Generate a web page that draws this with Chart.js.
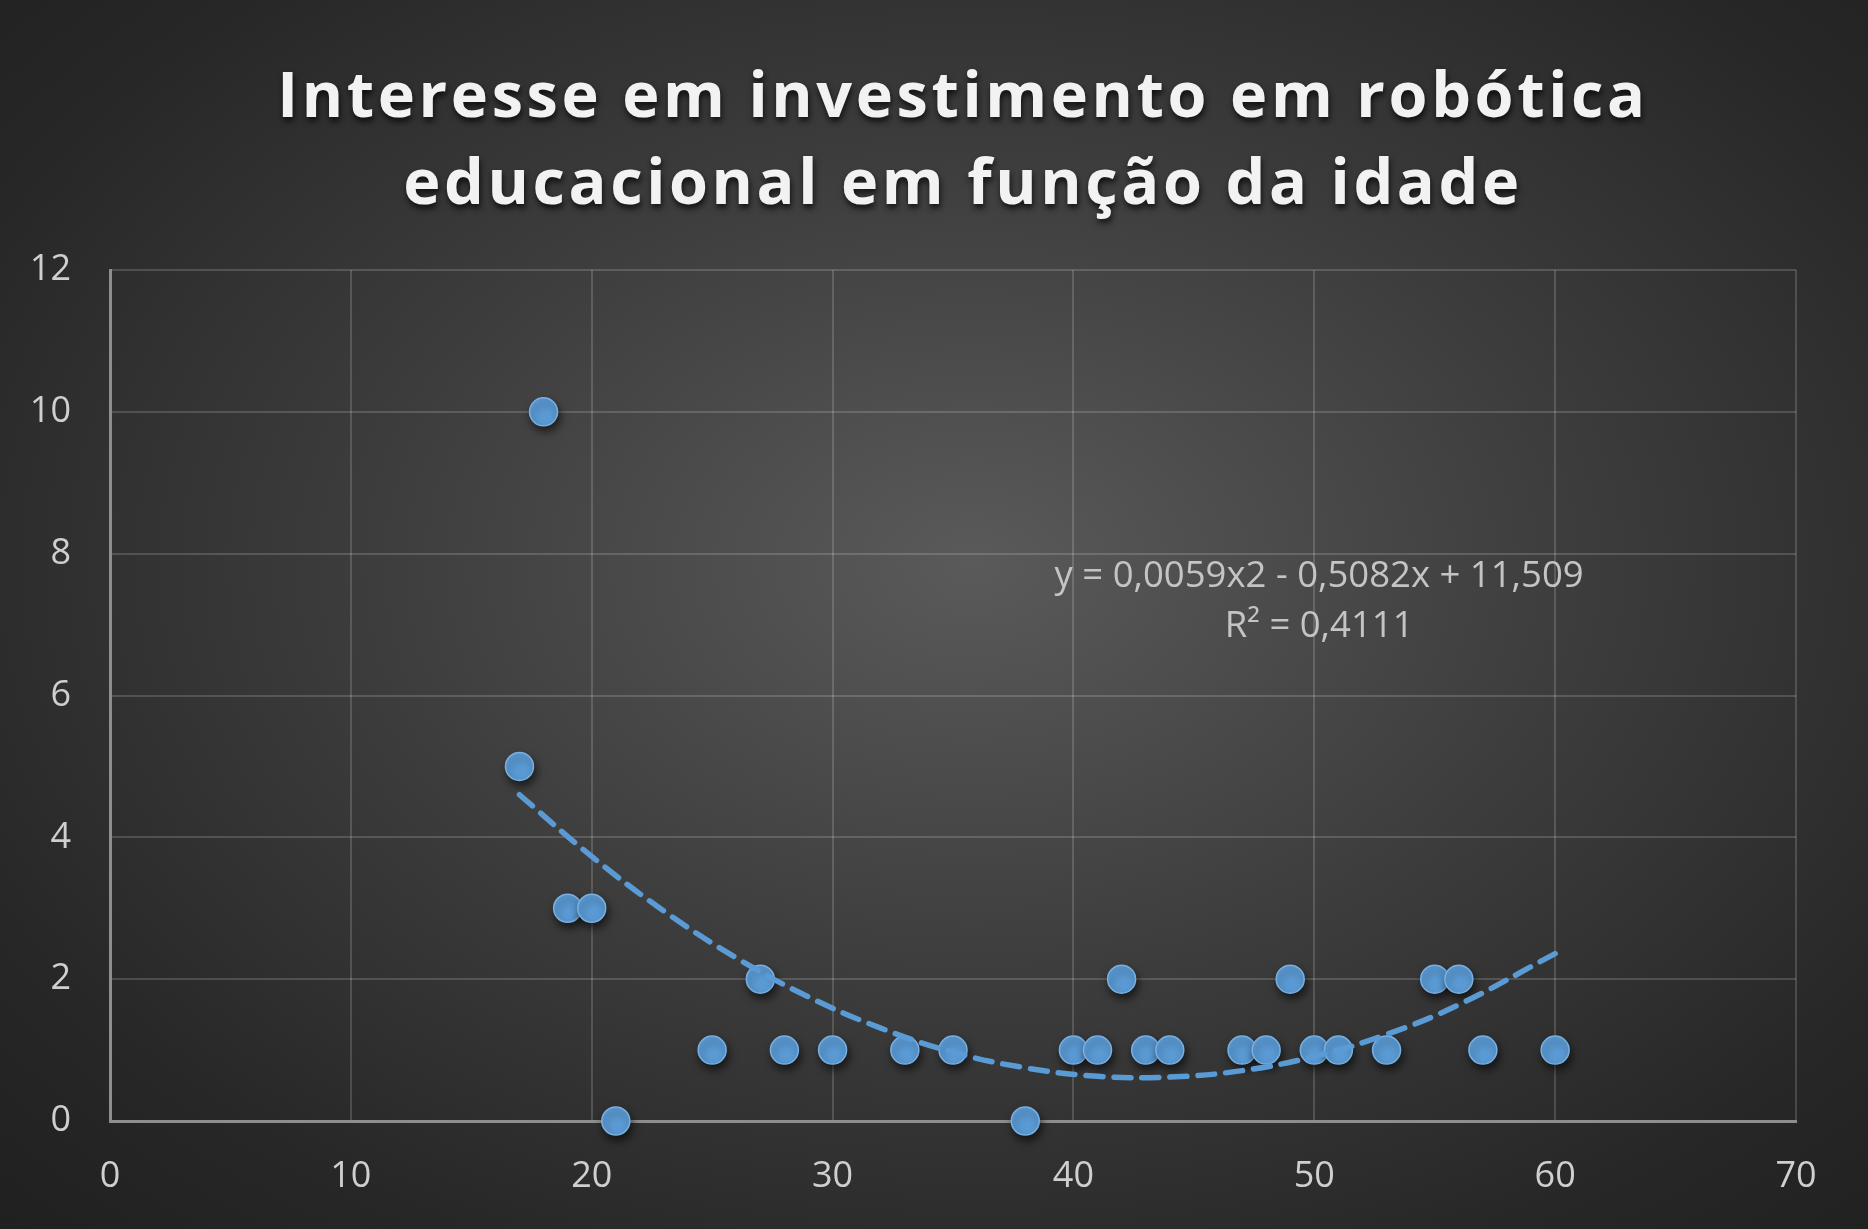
<!DOCTYPE html>
<html><head><meta charset="utf-8">
<script src="https://cdn.jsdelivr.net/npm/chart.js@4.4.1/dist/chart.umd.min.js"></script>
<style>
html,body{margin:0;padding:0;background:#262626;}
#wrap{width:1868px;height:1229px;background:radial-gradient(ellipse farthest-corner at 52% 46%, #5a5a5a 0%, #3c3c3c 45%, #272727 80%, #202020 100%);}
canvas{display:block}
</style></head><body><div id="wrap"><canvas id="c" width="1868" height="1229"></canvas></div>
<script>
const titleLines = ['Interesse em investimento em robótica', 'educacional em função da idade'];
const ages     = [17, 18, 19, 20, 21, 25, 27, 28, 30, 33, 35, 38, 40, 41, 42, 43, 44, 47, 48, 49, 50, 51, 53, 55, 56, 57, 60];
const interest = [ 5, 10,  3,  3,  0,  1,  2,  1,  1,  1,  1,  0,  1,  1,  2,  1,  1,  1,  1,  2,  1,  1,  1,  2,  2,  1,  1];
const trendAges   = [17, 20, 23, 26, 29, 32, 35, 38, 41, 44, 47, 50, 53, 56, 60];
const trendValues = [4.60, 3.73, 2.96, 2.30, 1.75, 1.31, 0.97, 0.75, 0.63, 0.62, 0.71, 0.91, 1.22, 1.64, 2.36];
const xTicks = [0, 10, 20, 30, 40, 50, 60, 70];
const yTicks = [0, 2, 4, 6, 8, 10, 12];
const equationLines = ['y = 0,0059x2 - 0,5082x + 11,509', 'R² = 0,4111'];

const BLUE = '#5b9bd5';
const FONT = '"Open Sans", "Noto Sans", sans-serif';

const shadowPlugin = {
  id: 'pointShadow',
  beforeDatasetDraw(chart, args) {
    if (args.index !== 0) return;
    const ctx = chart.ctx;
    ctx.save();
    ctx.shadowColor = 'rgba(0,0,0,0.6)';
    ctx.shadowBlur = 8;
    ctx.shadowOffsetX = 2;
    ctx.shadowOffsetY = 5;
  },
  afterDatasetDraw(chart, args) {
    if (args.index !== 0) return;
    chart.ctx.restore();
  }
};

const textPlugin = {
  id: 'texts',
  afterDraw(chart) {
    const ctx = chart.ctx;
    // Title
    ctx.save();
    ctx.font = 'bold 63px ' + FONT;
    ctx.letterSpacing = '3.6px';
    ctx.fillStyle = '#f2f2f2';
    ctx.textAlign = 'center';
    ctx.textBaseline = 'alphabetic';
    ctx.shadowColor = 'rgba(0,0,0,0.75)';
    ctx.shadowBlur = 6;
    ctx.shadowOffsetX = 1;
    ctx.shadowOffsetY = 4;
    ctx.fillText(titleLines[0], 963, 117);
    ctx.fillText(titleLines[1], 963, 204);
    ctx.restore();
    // Trendline equation
    const xs = chart.scales.x, ys = chart.scales.y;
    const cx = xs.getPixelForValue(50.2);
    const cy = ys.getPixelForValue(7.68);
    ctx.save();
    ctx.font = '36.5px ' + FONT;
    ctx.fillStyle = '#c4c4c4';
    ctx.textAlign = 'center';
    ctx.textBaseline = 'middle';
    ctx.fillText(equationLines[0], cx, cy);
    ctx.fillText(equationLines[1], cx, cy + 50);
    ctx.restore();
  }
};

new Chart(document.getElementById('c'), {
  type: 'scatter',
  data: {
    datasets: [
      {
        label: 'Interesse',
        data: ages.map((a, i) => ({x: a, y: interest[i]})),
        backgroundColor: BLUE,
        borderColor: '#78b0e2',
        borderWidth: 1.5,
        pointRadius: 14,
        pointHoverRadius: 14,
        clip: false,
        order: 1
      },
      {
        label: 'Tendência',
        type: 'line',
        data: trendAges.map((a, i) => ({x: a, y: trendValues[i]})),
        showLine: true,
        borderColor: BLUE,
        borderWidth: 5.5,
        borderDash: [17, 11],
        borderCapStyle: 'round',
        pointRadius: 0,
        tension: 0.4,
        fill: false,
        clip: false,
        order: 0
      }
    ]
  },
  options: {
    responsive: false,
    animation: false,
    devicePixelRatio: 1,
    layout: { padding: { top: 270, right: 72, left: 0, bottom: 0 } },
    plugins: { legend: { display: false }, tooltip: { enabled: false }, title: { display: false } },
    scales: {
      x: {
        type: 'linear', min: 0, max: 70,
        afterBuildTicks: s => { s.ticks = xTicks.map(v => ({value: v})); },
        afterFit: s => { s.height = 108; },
        grid: { color: 'rgba(255,255,255,0.16)', lineWidth: 2, drawTicks: false },
        border: { color: '#8e8e8e', width: 3 },
        ticks: { color: '#cfcfcf', font: { family: FONT, size: 36 }, padding: 34, maxRotation: 0 }
      },
      y: {
        type: 'linear', min: 0, max: 12,
        afterBuildTicks: s => { s.ticks = yTicks.map(v => ({value: v})); },
        afterFit: s => { s.width = 110; },
        grid: { color: 'rgba(255,255,255,0.16)', lineWidth: 2, drawTicks: false },
        border: { color: '#8e8e8e', width: 3 },
        ticks: { color: '#cfcfcf', font: { family: FONT, size: 36 }, padding: 39 }
      }
    }
  },
  plugins: [shadowPlugin, textPlugin]
});
</script></body></html>
